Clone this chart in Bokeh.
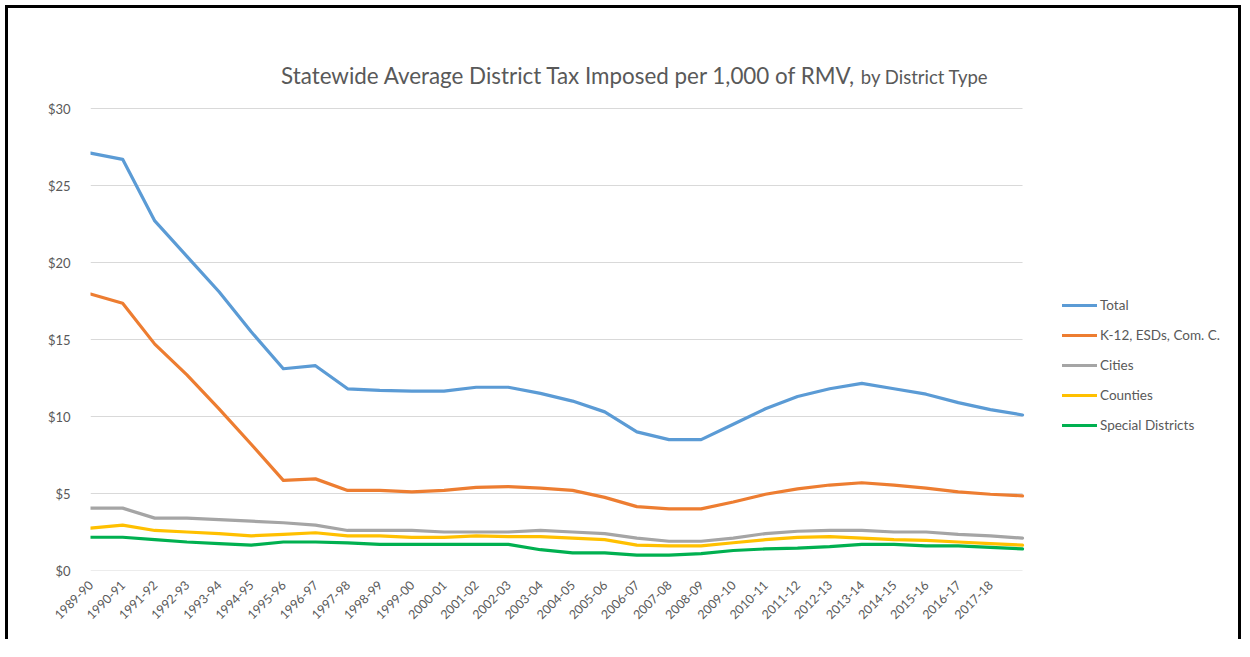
from bokeh.plotting import figure
from bokeh.models import Range1d, FixedTicker, Legend, LegendItem, Label
from bokeh.embed import file_html
from bokeh.resources import INLINE

# ---------------- data ----------------
years = ["1989-90", "1990-91", "1991-92", "1992-93", "1993-94", "1994-95",
         "1995-96", "1996-97", "1997-98", "1998-99", "1999-00", "2000-01",
         "2001-02", "2002-03", "2003-04", "2004-05", "2005-06", "2006-07",
         "2007-08", "2008-09", "2009-10", "2010-11", "2011-12", "2012-13",
         "2013-14", "2014-15", "2015-16", "2016-17", "2017-18", "2018-19"]
# the last year is plotted but carries no tick label in the original
shown_labels = years[:-1]

total = [27.1, 26.7, 22.7, 20.4, 18.1, 15.5, 13.1, 13.3, 11.8, 11.7,
         11.65, 11.65, 11.9, 11.9, 11.5, 11.0, 10.3, 9.0, 8.5, 8.5,
         9.5, 10.5, 11.3, 11.8, 12.15, 11.8, 11.45, 10.9, 10.45, 10.1]
k12 = [17.95, 17.35, 14.7, 12.7, 10.5, 8.2, 5.85, 5.95, 5.2, 5.2,
       5.1, 5.2, 5.4, 5.45, 5.35, 5.2, 4.75, 4.15, 4.0, 4.0,
       4.45, 4.95, 5.3, 5.55, 5.7, 5.55, 5.35, 5.1, 4.95, 4.85]
cities = [4.05, 4.05, 3.4, 3.4, 3.3, 3.2, 3.1, 2.95, 2.6, 2.6,
          2.6, 2.5, 2.5, 2.5, 2.6, 2.5, 2.4, 2.1, 1.9, 1.9,
          2.1, 2.4, 2.55, 2.6, 2.6, 2.5, 2.5, 2.35, 2.25, 2.1]
counties = [2.75, 2.95, 2.6, 2.5, 2.4, 2.25, 2.35, 2.45, 2.25, 2.25,
            2.15, 2.15, 2.25, 2.2, 2.2, 2.1, 2.0, 1.65, 1.6, 1.6,
            1.8, 2.0, 2.15, 2.2, 2.1, 2.0, 1.95, 1.85, 1.75, 1.65]
special = [2.16, 2.16, 2.0, 1.85, 1.75, 1.65, 1.85, 1.85, 1.8, 1.7,
           1.7, 1.7, 1.7, 1.7, 1.35, 1.15, 1.15, 1.0, 1.0, 1.1,
           1.3, 1.4, 1.45, 1.55, 1.7, 1.7, 1.6, 1.6, 1.5, 1.4]

series_names = ["Total", "K-12, ESDs, Com. C.", "Cities", "Counties", "Special Districts"]
series_values = [total, k12, cities, counties, special]
series_colors = ["#5B9BD5", "#ED7D31", "#A5A5A5", "#FFC000", "#00B050"]

y_ticks = [0, 5, 10, 15, 20, 25, 30]
y_tick_labels = ["$0", "$5", "$10", "$15", "$20", "$25", "$30"]

title_main = "Statewide Average District Tax Imposed per 1,000 of RMV,"
title_sub = "by District Type"

FONT = "Lato"
GREY_TEXT = "#595959"

# ---------------- figure ----------------
# The frame spans the whole chart area (title and legend included), so that
# nothing is clipped; the value axis and its grid cover 0..30 only.
xs = list(range(len(years)))
n_last = len(years) - 1

p = figure(width=1236, height=634, output_backend="svg", toolbar_location=None,
           x_range=Range1d(0, 35.72), y_range=Range1d(0, 36.3),
           min_border_left=82, min_border_right=6,
           min_border_top=3, min_border_bottom=72)
p.title.visible = False
p.outline_line_color = None
p.background_fill_color = "white"
p.border_fill_color = "white"
p.styles = {"border-top": "3px solid black", "border-left": "3px solid black",
            "border-right": "3px solid black",
            "margin-left": "5px", "margin-top": "5px"}
p.xgrid.grid_line_color = None
p.ygrid.grid_line_color = None

# horizontal gridlines at the value ticks, spanning the category extent
p.segment(x0=[0] * len(y_ticks), y0=y_ticks, x1=[n_last] * len(y_ticks), y1=y_ticks,
          line_color="#D9D9D9", line_width=1)

renderers = []
for name, vals, col in zip(series_names, series_values, series_colors):
    r = p.line(xs, vals, line_color=col, line_width=3.2, line_join="round",
               line_cap="round")
    renderers.append((name, r))

# axes
p.xaxis.ticker = FixedTicker(ticks=list(range(len(shown_labels))))
p.xaxis.major_label_overrides = {i: lab for i, lab in enumerate(shown_labels)}
p.xaxis.major_label_orientation = 0.785398
p.xaxis.axis_line_color = None
p.xaxis.major_tick_line_color = None
p.xaxis.minor_tick_line_color = None
p.xaxis.major_label_text_font = FONT
p.xaxis.major_label_text_font_size = "12.5px"
p.xaxis.major_label_text_color = GREY_TEXT
p.xaxis.major_label_standoff = 6

p.yaxis.ticker = FixedTicker(ticks=y_ticks)
p.yaxis.major_label_overrides = {t: lab for t, lab in zip(y_ticks, y_tick_labels)}
p.yaxis.axis_line_color = None
p.yaxis.major_tick_line_color = None
p.yaxis.minor_tick_line_color = None
p.yaxis.major_label_text_font = FONT
p.yaxis.major_label_text_font_size = "13px"
p.yaxis.major_label_text_color = GREY_TEXT
p.yaxis.major_label_standoff = 14

# title (two sizes)
p.add_layout(Label(x=23.83, y=32.14, text=title_main, text_align="right",
                   text_baseline="middle", text_font=FONT,
                   text_font_size="22.4px", text_color=GREY_TEXT))
p.add_layout(Label(x=23.97, y=32.07, text=title_sub, text_align="left",
                   text_baseline="middle", text_font=FONT,
                   text_font_size="18.5px", text_color=GREY_TEXT))

# legend
legend = Legend(items=[LegendItem(label=n, renderers=[r]) for n, r in renderers],
                location=(972, 135), orientation="vertical",
                glyph_width=35, glyph_height=20, label_height=20,
                spacing=10, padding=0, margin=0, label_standoff=3,
                border_line_color=None, background_fill_alpha=0,
                label_text_font=FONT, label_text_font_size="13.5px",
                label_text_color=GREY_TEXT)
p.add_layout(legend, "center")

open("out.html", "w").write(file_html(p, INLINE))
